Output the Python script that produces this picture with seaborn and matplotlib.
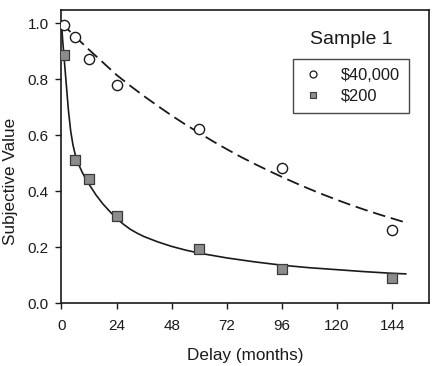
import matplotlib
matplotlib.use("Agg")
import matplotlib.pyplot as plt
from matplotlib.lines import Line2D
import seaborn as sns
import pandas as pd

# ---- data ----
delay = [1, 6, 12, 24, 60, 96, 144]
sv_40000 = [0.995, 0.95, 0.873, 0.778, 0.622, 0.482, 0.260]
sv_200 = [0.886, 0.512, 0.443, 0.313, 0.193, 0.121, 0.090]

# fitted curves
fit_delay_40000 = [0, 6, 12, 18, 24, 30, 36, 42, 48, 54, 60, 66, 72, 78, 84, 90,
                   96, 102, 108, 114, 120, 126, 132, 138, 144, 150]
fit_40000 = [1.00, 0.952, 0.905, 0.86, 0.815, 0.776, 0.739, 0.704, 0.67, 0.638,
             0.608, 0.578, 0.55, 0.523, 0.498, 0.474, 0.451, 0.429, 0.408, 0.388,
             0.369, 0.351, 0.334, 0.318, 0.303, 0.288]
fit_delay_200 = [0, 0.5, 1, 1.5, 2, 3, 4, 5, 6, 7.5, 9, 10.5, 12, 15, 18, 21, 24,
                 27, 30, 33, 36, 42, 48, 54, 60, 72, 84, 96, 108, 120, 132, 144, 150]
fit_200 = [1.00, 0.94, 0.89, 0.84, 0.79, 0.69, 0.615, 0.565, 0.53, 0.495, 0.468,
           0.445, 0.425, 0.387, 0.355, 0.328, 0.303, 0.282, 0.264, 0.25, 0.238,
           0.219, 0.203, 0.19, 0.179, 0.162, 0.148, 0.136, 0.127, 0.12, 0.113,
           0.107, 0.105]

x_ticks = [0, 24, 48, 72, 96, 120, 144]
y_ticks = [0.0, 0.2, 0.4, 0.6, 0.8, 1.0]
series_labels = ["$40,000", "$200"]
title_text = "Sample 1"

sns.set_style("ticks")
plt.rcParams["font.family"] = ["Liberation Sans", "DejaVu Sans"]

fig = plt.figure(figsize=(4.34, 3.66), dpi=100)
ax = fig.add_axes([0.1417, 0.1713, 0.8467, 0.8014])

df40 = pd.DataFrame({"x": fit_delay_40000, "y": fit_40000})
df200 = pd.DataFrame({"x": fit_delay_200, "y": fit_200})
sns.lineplot(data=df40, x="x", y="y", ax=ax, color="#1a1a1a", lw=1.3,
             linestyle=(0, (7, 3.2)), sort=True, estimator=None)
sns.lineplot(data=df200, x="x", y="y", ax=ax, color="#1a1a1a", lw=1.2,
             sort=True, estimator=None)

pts40 = pd.DataFrame({"x": delay, "y": sv_40000})
pts200 = pd.DataFrame({"x": delay, "y": sv_200})
sns.scatterplot(data=pts40, x="x", y="y", ax=ax, marker="o", s=54,
                facecolor="white", edgecolor="#1a1a1a", linewidth=1.0, zorder=5)
sns.scatterplot(data=pts200, x="x", y="y", ax=ax, marker="s", s=44,
                facecolor="#8c8c8c", edgecolor="#3a3a3a", linewidth=0.9, zorder=5)

ax.set_xlim(0, 160)
ax.set_ylim(0, 1.047)
ax.set_xticks(x_ticks)
ax.set_yticks(y_ticks)
ax.set_yticklabels([f"{v:.1f}" for v in y_ticks])
ax.tick_params(axis="both", direction="out", length=4, width=1.0,
               labelsize=11, colors="#1a1a1a")
ax.tick_params(axis="x", pad=7)
ax.tick_params(axis="y", pad=5)
for s in ax.spines.values():
    s.set_visible(True)
    s.set_color("#1a1a1a")
    s.set_linewidth(1.2)

ax.set_xlabel("Delay (months)", fontsize=12.3, color="#1a1a1a", labelpad=11)
ax.set_ylabel("Subjective Value", fontsize=12.3, color="#1a1a1a")
ax.yaxis.set_label_coords(-0.118, 0.415)

ax.text(0.79, 0.898, title_text, transform=ax.transAxes, ha="center",
        va="center", fontsize=14, color="#1a1a1a")

handles = [
    Line2D([], [], ls="none", marker="o", markersize=5, markerfacecolor="white",
           markeredgecolor="#1a1a1a", markeredgewidth=0.9),
    Line2D([], [], ls="none", marker="s", markersize=4.5, markerfacecolor="#8c8c8c",
           markeredgecolor="#3a3a3a", markeredgewidth=0.8),
]
leg = ax.legend(handles, series_labels, loc="upper right",
                bbox_to_anchor=(0.946, 0.833), borderaxespad=0, fontsize=11.8,
                frameon=True, fancybox=False, handlelength=1.4,
                handletextpad=1.0, borderpad=0.55, labelspacing=0.35)
leg.get_frame().set_edgecolor("#1a1a1a")
leg.get_frame().set_linewidth(1.0)
for t in leg.get_texts():
    t.set_color("#1a1a1a")

fig.savefig("out.png", dpi=100)
